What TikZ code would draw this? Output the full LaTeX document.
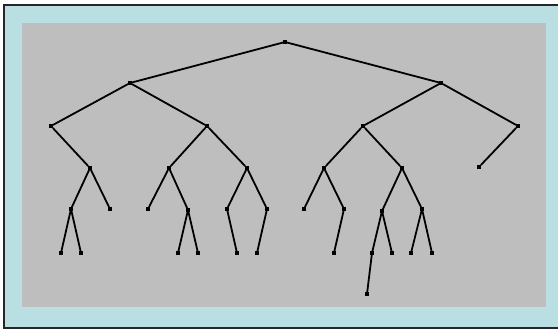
\documentclass[tikz,border=0pt]{standalone}
\usepackage{xcolor}
\usepackage{tikz}
\usetikzlibrary{positioning}
\definecolor{FrameCyan}{HTML}{B9DFE2}
\definecolor{PanelGray}{HTML}{BEBEBE}
\tikzset{
  knot/.style={rectangle, fill=black, inner sep=0pt, minimum size=3.8pt},
  branch/.style={line width=1.8pt, black, line cap=round},
}

\begin{document}
\begin{tikzpicture}[x=1pt, y=-1pt]
    \useasboundingbox (0,0) rectangle (558,332);
    % frame and panel
    \fill[FrameCyan] (4,5) rectangle (558,328);
    \draw[line width=1.8pt, black!85] (558,5) -- (4,5) -- (4,328) -- (558,328);
    \fill[PanelGray] (22,23) rectangle (546,307);

    % tree nodes
    \node[knot] (root) at (285,42) {};
    \node[knot] (L) at (130,83) {};
    \node[knot] (R) at (441,83) {};
    \node[knot] (LL) at (51,126) {};
    \node[knot] (LR) at (207,126) {};
    \node[knot] (RL) at (363,126) {};
    \node[knot] (RR) at (518,126) {};
    \node[knot] (LLa) at (90,168) {};
    \node[knot] (LRa) at (169,168) {};
    \node[knot] (LRb) at (247,168) {};
    \node[knot] (RLa) at (324,168) {};
    \node[knot] (RLb) at (402,168) {};
    \node[knot] (RRa) at (479,167) {};
    \node[knot] (LLa1) at (71,209) {};
    \node[knot] (LLa2) at (110,209) {};
    \node[knot] (LRa1) at (148,209) {};
    \node[knot] (LRa2) at (188,210) {};
    \node[knot] (LRb1) at (227,209) {};
    \node[knot] (LRb2) at (267,209) {};
    \node[knot] (RLa1) at (304,209) {};
    \node[knot] (RLa2) at (344,209) {};
    \node[knot] (RLb1) at (382,211) {};
    \node[knot] (RLb2) at (422,209) {};
    \node[knot] (LLa1x) at (61,253) {};
    \node[knot] (LLa1y) at (81,253) {};
    \node[knot] (LRa2x) at (178,253) {};
    \node[knot] (LRa2y) at (198,253) {};
    \node[knot] (LRb1x) at (237,253) {};
    \node[knot] (LRb2x) at (257,253) {};
    \node[knot] (RLa2x) at (334,253) {};
    \node[knot] (RLb1x) at (372,253) {};
    \node[knot] (RLb1y) at (392,253) {};
    \node[knot] (RLb2x) at (411,253) {};
    \node[knot] (RLb2y) at (432,253) {};
    \node[knot] (deep) at (367,294) {};

    % branches
    \draw[branch] (root) -- (L);
    \draw[branch] (root) -- (R);
    \draw[branch] (L) -- (LL);
    \draw[branch] (L) -- (LR);
    \draw[branch] (R) -- (RL);
    \draw[branch] (R) -- (RR);
    \draw[branch] (LL) -- (LLa);
    \draw[branch] (LR) -- (LRa);
    \draw[branch] (LR) -- (LRb);
    \draw[branch] (RL) -- (RLa);
    \draw[branch] (RL) -- (RLb);
    \draw[branch] (RR) -- (RRa);
    \draw[branch] (LLa) -- (LLa1);
    \draw[branch] (LLa) -- (LLa2);
    \draw[branch] (LRa) -- (LRa1);
    \draw[branch] (LRa) -- (LRa2);
    \draw[branch] (LRb) -- (LRb1);
    \draw[branch] (LRb) -- (LRb2);
    \draw[branch] (RLa) -- (RLa1);
    \draw[branch] (RLa) -- (RLa2);
    \draw[branch] (RLb) -- (RLb1);
    \draw[branch] (RLb) -- (RLb2);
    \draw[branch] (LLa1) -- (LLa1x);
    \draw[branch] (LLa1) -- (LLa1y);
    \draw[branch] (LRa2) -- (LRa2x);
    \draw[branch] (LRa2) -- (LRa2y);
    \draw[branch] (LRb1) -- (LRb1x);
    \draw[branch] (LRb2) -- (LRb2x);
    \draw[branch] (RLa2) -- (RLa2x);
    \draw[branch] (RLb1) -- (RLb1x);
    \draw[branch] (RLb1) -- (RLb1y);
    \draw[branch] (RLb2) -- (RLb2x);
    \draw[branch] (RLb2) -- (RLb2y);
    \draw[branch] (RLb1x) -- (deep);
\end{tikzpicture}
\end{document}
